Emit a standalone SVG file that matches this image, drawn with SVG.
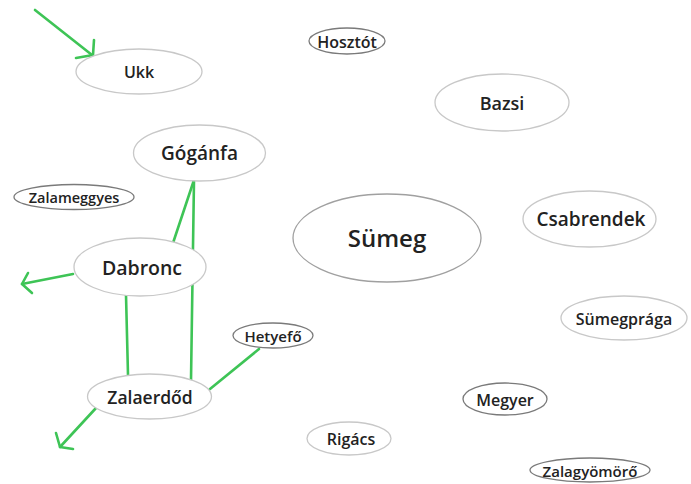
<svg xmlns="http://www.w3.org/2000/svg" width="691" height="484" viewBox="0 0 691 484">
<style>
.n ellipse{fill:#fff;stroke:#c8c8c8;stroke-width:1.3}
.n.d ellipse{stroke:#7a7a7a}
.n text{font-family:"Open Sans","Noto Sans","Liberation Sans",sans-serif;font-weight:600;fill:#222;text-anchor:middle;dominant-baseline:central}
.c line,.c polyline{stroke:#3ec456;stroke-width:2.6;fill:none;stroke-linecap:round;stroke-linejoin:round}
</style>
<rect width="691" height="484" fill="#fff"/>
<g class="c" id="connectors">
<line x1="35" y1="10" x2="92" y2="55"/>
<polyline points="94,40 93,55 76,58"/>
<line x1="194" y1="180" x2="173" y2="243"/>
<line x1="194" y1="180" x2="191" y2="380"/>
<line x1="126" y1="295" x2="128" y2="375"/>
<line x1="259" y1="349" x2="210" y2="389"/>
<line x1="73" y1="274" x2="22" y2="284"/>
<polyline points="28,273 22,284 32,293"/>
<line x1="96" y1="408" x2="60" y2="447"/>
<polyline points="56,433 60,447 73,449"/>
</g>
<g class="n" id="ukk"><ellipse cx="139" cy="71.5" rx="63" ry="22.5"/><text x="139" y="72" font-size="16">Ukk</text></g>
<g class="n d" id="hosztot"><ellipse cx="347" cy="41" rx="38" ry="13"/><text x="347" y="42" font-size="16">Hosztót</text></g>
<g class="n" id="bazsi"><ellipse cx="502" cy="102.5" rx="67" ry="28.5"/><text x="502" y="103" font-size="18">Bazsi</text></g>
<g class="n" id="goganfa"><ellipse cx="199.5" cy="153" rx="66" ry="28"/><text x="199.5" y="153" font-size="19">Gógánfa</text></g>
<g class="n d" id="zalameggyes"><ellipse cx="74" cy="197" rx="60" ry="12.5"/><text x="74" y="197.5" font-size="14.5">Zalameggyes</text></g>
<g class="n" id="sumeg"><ellipse cx="387" cy="238" rx="94" ry="44" style="stroke:#a0a0a0"/><text x="387" y="237" font-size="24">Sümeg</text></g>
<g class="n" id="csabrendek"><ellipse cx="589.5" cy="219" rx="66.5" ry="28"/><text x="591" y="219" font-size="19">Csabrendek</text></g>
<g class="n" id="dabronc"><ellipse cx="140" cy="267" rx="66" ry="29"/><text x="142" y="267" font-size="19.5">Dabronc</text></g>
<g class="n" id="sumegpraga"><ellipse cx="624" cy="318" rx="63" ry="22"/><text x="624" y="319" font-size="16">Sümegprága</text></g>
<g class="n d" id="hetyefo"><ellipse cx="273" cy="335.5" rx="40" ry="12.5"/><text x="273" y="336" font-size="15">Hetyefő</text></g>
<g class="n" id="zalaerdod"><ellipse cx="149.5" cy="396.5" rx="62" ry="22.5"/><text x="150" y="397" font-size="17.5">Zalaerdőd</text></g>
<g class="n d" id="megyer"><ellipse cx="505" cy="399" rx="42" ry="16"/><text x="505" y="400" font-size="16">Megyer</text></g>
<g class="n" id="rigacs"><ellipse cx="349" cy="438.5" rx="42" ry="16.5"/><text x="351" y="439" font-size="16">Rigács</text></g>
<g class="n d" id="zalagyomoro"><ellipse cx="590" cy="470" rx="60" ry="12"/><text x="590" y="471" font-size="15">Zalagyömörő</text></g>
</svg>
